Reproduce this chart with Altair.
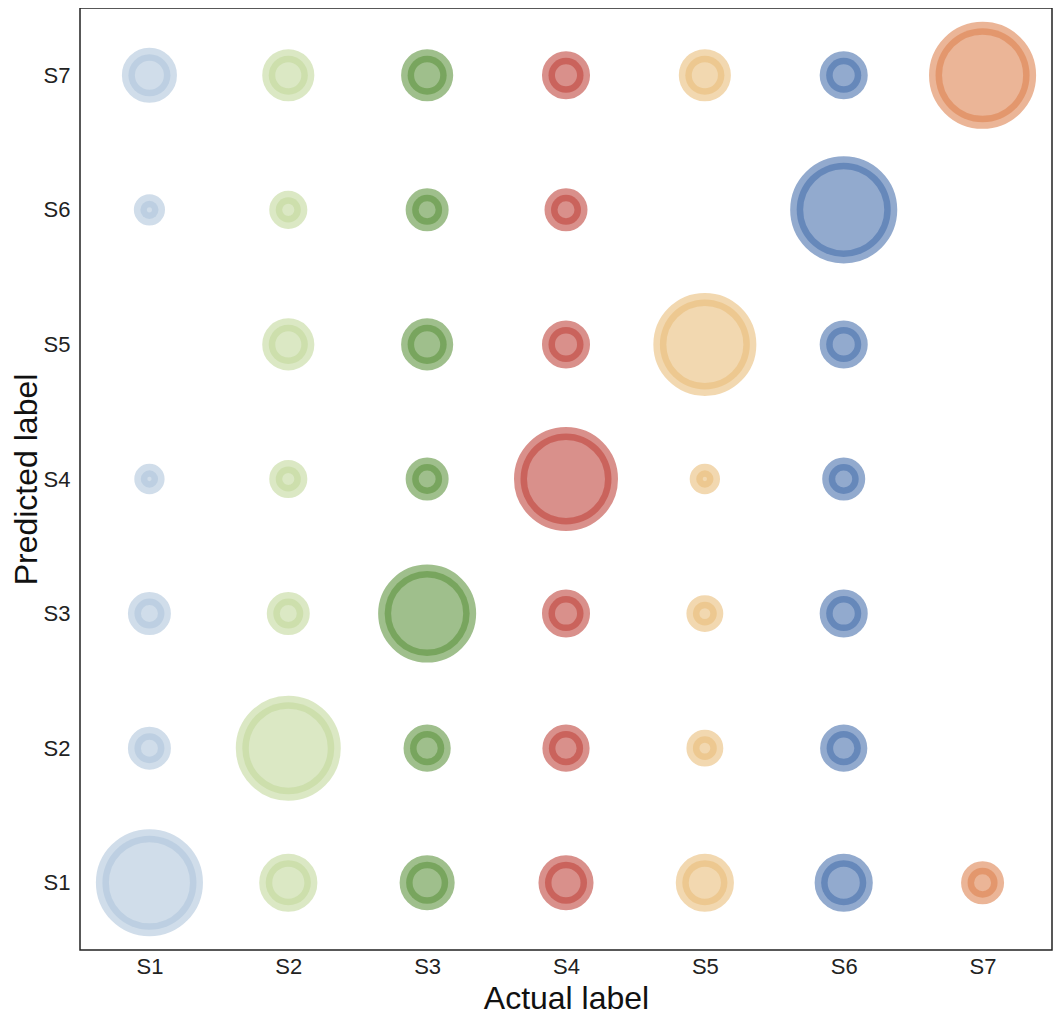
import altair as alt
import pandas as pd

labels = ["S1", "S2", "S3", "S4", "S5", "S6", "S7"]
colors = ["#b0c6dc", "#c3d99d", "#5f943f", "#bf463e", "#e9be7b", "#4a71ad", "#dd8452"]

# counts[predicted][actual]; None = no point
counts = {
    "S1": [295, 68, 59, 59, 68, 68, 30],
    "S2": [30, 282, 39, 39, 19, 39, None],
    "S3": [30, 30, 241, 41, 19, 41, None],
    "S4": [10, 21, 30, 276, 10, 30, None],
    "S5": [None, 51, 51, 41, 270, 41, None],
    "S6": [11, 21, 30, 30, None, 295, None],
    "S7": [59, 51, 51, 41, 51, 41, 295],
}

rows = []
for pred, vals in counts.items():
    for act, v in zip(labels, vals):
        if v is not None:
            rows.append({"actual": act, "predicted": pred, "count": v})
df = pd.DataFrame(rows)

font = "Liberation Sans"
color_scale = alt.Scale(domain=labels, range=colors)

chart = (
    alt.Chart(df)
    .mark_point(shape="circle", filled=True, opacity=1, fillOpacity=0.6,
                strokeOpacity=0.6, strokeWidth=13)
    .encode(
        x=alt.X("actual:N", sort=labels, scale=alt.Scale(type="point", padding=0.5),
                axis=alt.Axis(title="Actual label", labelAngle=0)),
        y=alt.Y("predicted:N", sort=labels[::-1], scale=alt.Scale(type="point", padding=0.5),
                axis=alt.Axis(title="Predicted label")),
        size=alt.Size("count:Q", scale=alt.Scale(type="linear", domain=[0, 300], range=[0, 9000]),
                      legend=None),
        fill=alt.Fill("actual:N", scale=color_scale, legend=None),
        stroke=alt.Stroke("actual:N", scale=color_scale, legend=None),
    )
    .properties(width=972, height=942,
                autosize=alt.AutoSizeParams(type="none"),
                padding={"left": 72, "top": 0, "right": 2, "bottom": 64})
    .configure_view(stroke="#222222", strokeWidth=1.5)
    .configure_axis(
        grid=False, ticks=False, domain=False,
        labelFont=font, labelFontSize=22, labelColor="#222222",
        titleFont=font, titleFontSize=32, titleFontWeight="normal", titleColor="#111111",
    )
    .configure_axisX(labelPadding=6, titlePadding=6)
    .configure_axisY(labelPadding=10, titlePadding=0)
)

chart.save("out.html", embed_options={"renderer": "svg", "actions": False})
